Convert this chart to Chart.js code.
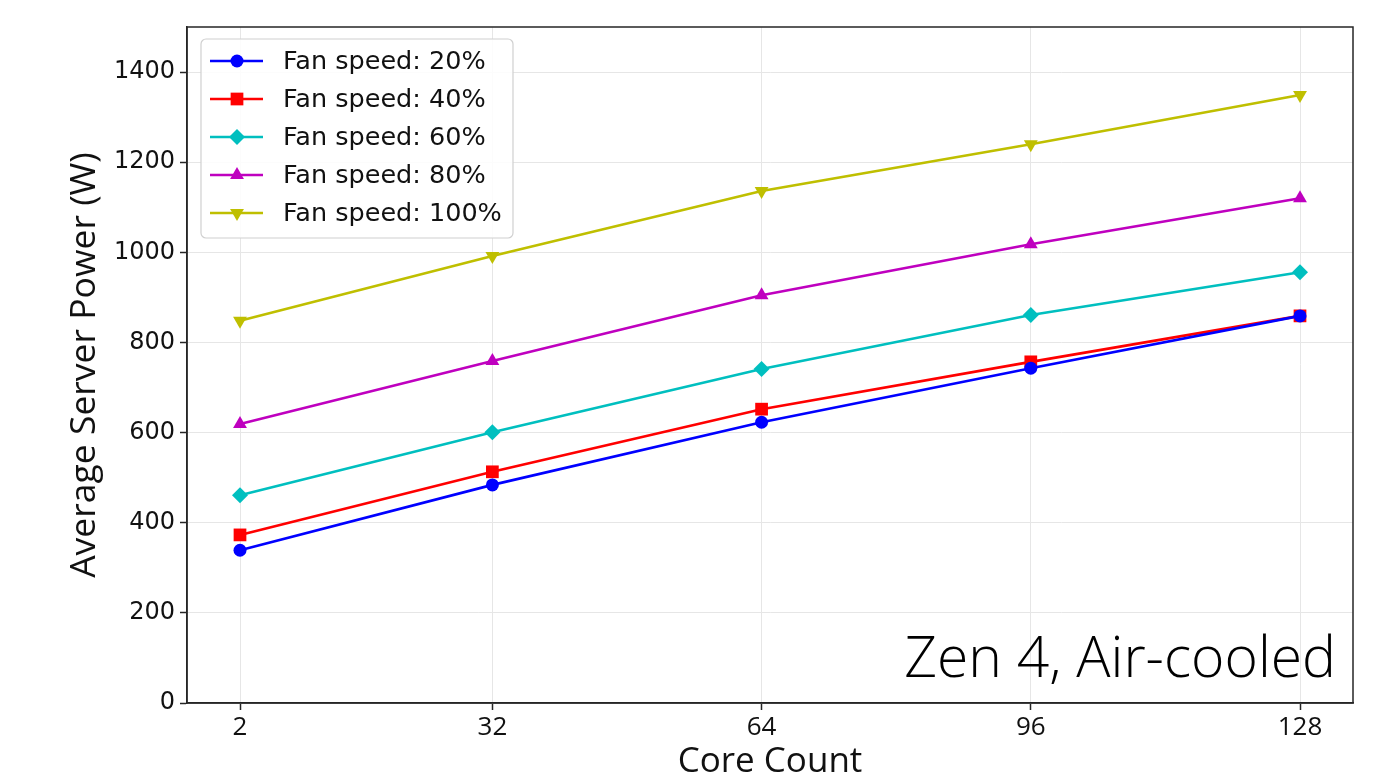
<!DOCTYPE html>
<html>
<head>
<meta charset="utf-8">
<script src="https://cdn.jsdelivr.net/npm/chart.js@4"></script>
<style>
  html, body { margin: 0; padding: 0; background: #fff; }
  #chart { display: block; }
</style>
</head>
<body>
<canvas id="chart" width="1398" height="776"></canvas>
<script>
// data
const coreCounts = [2, 32, 64, 96, 128];
const fan20 = [339, 484, 623, 743, 859];
const fan40 = [373, 513, 652, 757, 859];
const fan60 = [461, 601, 741, 861, 956];
const fan80 = [619, 759, 905, 1018, 1120];
const fan100 = [848, 992, 1136, 1240, 1349];
const seriesLabels = ["Fan speed: 20%", "Fan speed: 40%", "Fan speed: 60%", "Fan speed: 80%", "Fan speed: 100%"];
const xTicks = [2, 32, 64, 96, 128];
const yTicks = [0, 200, 400, 600, 800, 1000, 1200, 1400];

const colors = ["#0000ff", "#ff0000", "#00bfbf", "#bf00bf", "#bfbf00"];
const markers = ["circle", "rect", "rectRot", "triangle", "triangle"];
const rotations = [0, 0, 0, 0, 180];
const radii = [6.5, 9, 8, 8, 8];

function pts(vals) {
  return coreCounts.map((x, i) => ({ x: x, y: vals[i] }));
}

const allSeries = [fan20, fan40, fan60, fan80, fan100];
const datasets = allSeries.map((vals, i) => ({
  label: seriesLabels[i],
  data: pts(vals),
  borderColor: colors[i],
  backgroundColor: colors[i],
  borderWidth: 2.6,
  pointStyle: markers[i],
  pointRotation: rotations[i],
  pointRadius: radii[i],
  pointBorderWidth: 0,
  tension: 0
}));

// frame around the plot
const frame = {
  id: "frame",
  afterDatasetsDraw(chart) {
    const a = chart.chartArea, ctx = chart.ctx;
    ctx.save();
    ctx.strokeStyle = "#262626";
    ctx.lineWidth = 1.5;
    ctx.strokeRect(a.left, a.top, a.right - a.left, a.bottom - a.top);
    ctx.restore();
  }
};

// legend inside the axes, upper left
const innerLegend = {
  id: "innerLegend",
  afterDraw(chart) {
    const ctx = chart.ctx;
    const x = 201, y = 39, w = 312, h = 199;
    ctx.save();
    ctx.beginPath();
    ctx.roundRect(x, y, w, h, 5);
    ctx.fillStyle = "rgba(255,255,255,0.85)";
    ctx.fill();
    ctx.strokeStyle = "#d0d0d0";
    ctx.lineWidth = 1.2;
    ctx.stroke();
    ctx.font = "25.5px 'DejaVu Sans'";
    ctx.textBaseline = "middle";
    chart.data.datasets.forEach((ds, i) => {
      const cy = 61 + i * 38;
      ctx.strokeStyle = ds.borderColor;
      ctx.lineWidth = 2.6;
      ctx.beginPath();
      ctx.moveTo(210, cy);
      ctx.lineTo(263, cy);
      ctx.stroke();
      ctx.fillStyle = ds.borderColor;
      Chart.helpers.drawPoint(ctx, {
        pointStyle: ds.pointStyle,
        rotation: ds.pointRotation,
        radius: ds.pointRadius,
        borderWidth: 0
      }, 237, cy);
      ctx.fillStyle = "#111";
      ctx.fillText(ds.label, 283, cy + 1);
    });
    ctx.restore();
  }
};

// annotation text in the lower right
const note = {
  id: "note",
  afterDraw(chart) {
    const ctx = chart.ctx;
    ctx.save();
    ctx.font = "300 57px 'Open Sans'";
    ctx.fillStyle = "#000";
    ctx.textAlign = "right";
    ctx.textBaseline = "alphabetic";
    ctx.fillText("Zen 4, Air-cooled", 1336, 677);
    ctx.restore();
  }
};

Chart.defaults.font.family = "'DejaVu Sans'";
Chart.defaults.color = "#111";

new Chart(document.getElementById("chart"), {
  type: "line",
  data: { datasets: datasets },
  options: {
    responsive: false,
    animation: false,
    devicePixelRatio: 1,
    layout: { padding: { top: 27, right: 45, left: 0, bottom: 0 } },
    plugins: { legend: { display: false }, tooltip: { enabled: false } },
    scales: {
      x: {
        type: "linear",
        min: -4.3,
        max: 134.3,
        afterBuildTicks(s) { s.ticks = xTicks.map(v => ({ value: v })); },
        afterFit(s) { s.height = 73; },
        ticks: { font: { family: "'Open Sans'", size: 26 }, padding: 2, color: "#111", maxRotation: 0, callback: v => String(v) },
        grid: { color: "#e6e6e6", lineWidth: 1, tickLength: 7, tickColor: "#262626", tickWidth: 1.5 },
        border: { color: "#262626", width: 1.5 },
        title: {
          display: true,
          text: "Core Count",
          font: { family: "'Open Sans'", size: 35, lineHeight: 0.8 },
          color: "#111",
          padding: { top: 0, bottom: 0 }
        }
      },
      y: {
        min: 0,
        max: 1500,
        afterBuildTicks(s) { s.ticks = yTicks.map(v => ({ value: v })); },
        afterFit(s) { s.width = 187; },
        ticks: { font: { size: 24 }, padding: 5, color: "#111", callback: v => String(v) },
        grid: { color: "#e6e6e6", lineWidth: 1, tickLength: 7, tickColor: "#262626", tickWidth: 1.5 },
        border: { color: "#262626", width: 1.5 },
        title: {
          display: true,
          text: "Average Server Power (W)",
          font: { family: "'Open Sans'", size: 35.5, lineHeight: 1 },
          color: "#111",
          padding: { top: 67, bottom: 0 }
        }
      }
    }
  },
  plugins: [frame, innerLegend, note]
});
</script>
</body>
</html>
